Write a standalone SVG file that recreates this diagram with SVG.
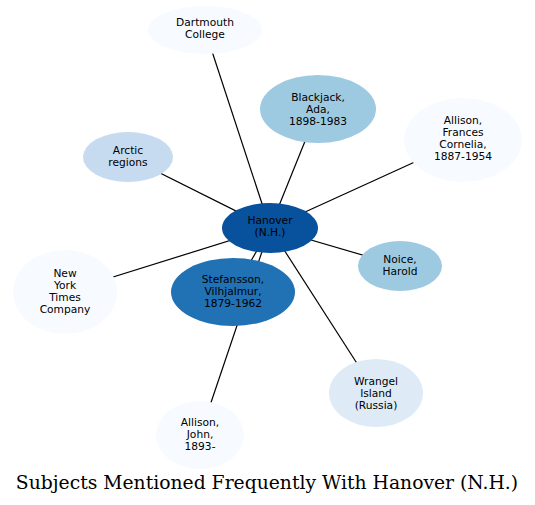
<svg xmlns="http://www.w3.org/2000/svg" width="535" height="505" viewBox="0 0 535 505">
<style>
.edge{stroke:#000;stroke-width:1.2;fill:none}
text{font-family:"DejaVu Sans","Liberation Sans",sans-serif;font-size:10.67px;text-anchor:middle;fill:#000}
.title{font-family:"DejaVu Serif","Liberation Serif",serif;font-size:18.75px}
.c0{fill:#f7fbff}.c1{fill:#deebf7}.c2{fill:#c6dbef}.c3{fill:#9ecae1}.c4{fill:#2171b5}.c5{fill:#08519c}
</style>
<rect width="535" height="505" fill="#fff"/>
<g id="edges">
<line class="edge" x1="270" y1="228" x2="205" y2="30"/>
<line class="edge" x1="270" y1="228" x2="318" y2="109"/>
<line class="edge" x1="270" y1="228" x2="463" y2="140"/>
<line class="edge" x1="270" y1="228" x2="128" y2="157"/>
<line class="edge" x1="270" y1="228" x2="400" y2="266"/>
<line class="edge" x1="270" y1="228" x2="65" y2="292"/>
<line class="edge" x1="270" y1="228" x2="233" y2="292"/>
<line class="edge" x1="270" y1="228" x2="376" y2="393"/>
<line class="edge" x1="270" y1="228" x2="200" y2="435"/>
</g>
<g id="dartmouth"><ellipse class="c0" cx="205" cy="30" rx="57" ry="24"/><text x="205" y="26">Dartmouth</text><text x="205" y="38">College</text></g>
<g id="blackjack"><ellipse class="c3" cx="318" cy="109" rx="58" ry="34"/><text x="318" y="101">Blackjack,</text><text x="318" y="113">Ada,</text><text x="318" y="125">1898-1983</text></g>
<g id="allison-frances"><ellipse class="c0" cx="463" cy="140" rx="59" ry="42"/><text x="463" y="124">Allison,</text><text x="463" y="136">Frances</text><text x="463" y="148">Cornelia,</text><text x="463" y="160">1887-1954</text></g>
<g id="arctic"><ellipse class="c2" cx="128" cy="157" rx="45" ry="25"/><text x="128" y="154">Arctic</text><text x="128" y="166">regions</text></g>
<g id="noice"><ellipse class="c3" cx="400" cy="266" rx="42" ry="25"/><text x="400" y="263">Noice,</text><text x="400" y="275">Harold</text></g>
<g id="nyt"><ellipse class="c0" cx="65" cy="292" rx="52" ry="42"/><text x="65" y="277">New</text><text x="65" y="289">York</text><text x="65" y="301">Times</text><text x="65" y="313">Company</text></g>
<g id="stefansson"><ellipse class="c4" cx="233" cy="292" rx="62" ry="34"/><text x="233" y="283">Stefansson,</text><text x="233" y="295">Vilhjalmur,</text><text x="233" y="307">1879-1962</text></g>
<g id="wrangel"><ellipse class="c1" cx="376" cy="393" rx="47" ry="34"/><text x="376" y="385">Wrangel</text><text x="376" y="397">Island</text><text x="376" y="409">(Russia)</text></g>
<g id="allison-john"><ellipse class="c0" cx="200" cy="435" rx="44" ry="34"/><text x="200" y="426">Allison,</text><text x="200" y="438">John,</text><text x="200" y="450">1893-</text></g>
<g id="hanover"><ellipse class="c5" cx="270" cy="228" rx="48" ry="25"/><text x="270" y="224">Hanover</text><text x="270" y="236">(N.H.)</text></g>
<text class="title" x="267" y="489">Subjects Mentioned Frequently With Hanover (N.H.)</text>
</svg>
